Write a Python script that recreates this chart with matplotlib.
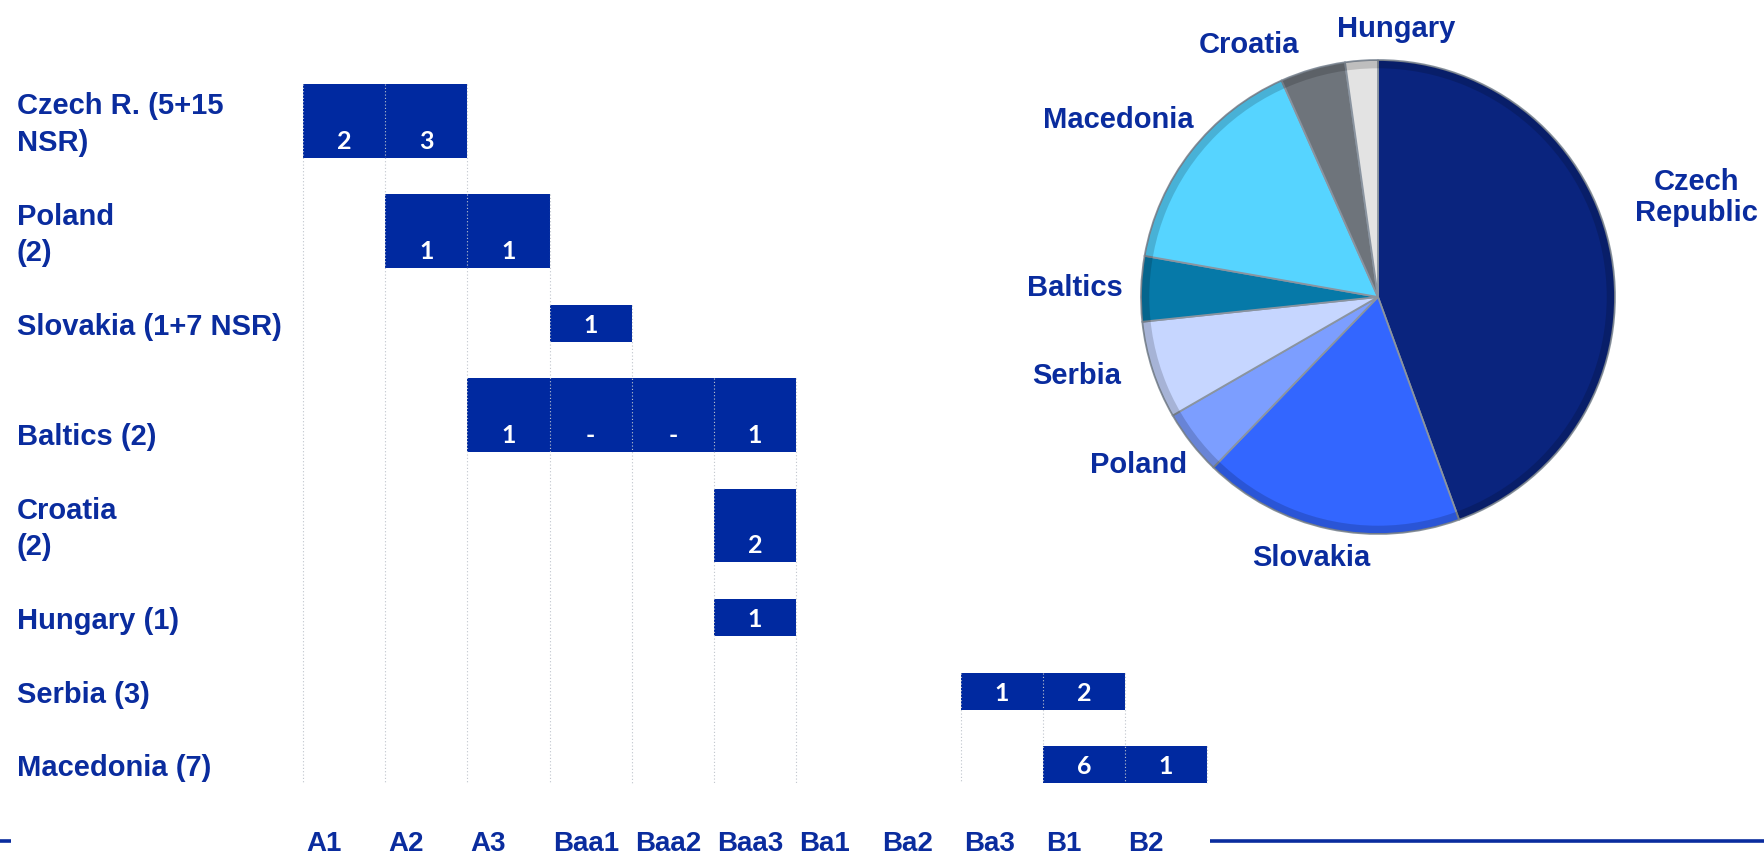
import matplotlib
matplotlib.use("Agg")
import matplotlib.pyplot as plt
from matplotlib import font_manager

# rating scale on the x axis
ratings = ["A1", "A2", "A3", "Baa1", "Baa2", "Baa3", "Ba1", "Ba2", "Ba3", "B1", "B2"]

# countries (rows) and number of rated issuers per rating bucket
countries = ["Czech R. (5+15\nNSR)", "Poland\n(2)", "Slovakia (1+7 NSR)", "\nBaltics (2)",
             "Croatia\n(2)", "Hungary (1)", "Serbia (3)", "Macedonia (7)"]
row_heights = [2, 2, 1, 2, 2, 1, 1, 1]
cells = [
    {"A1": "2", "A2": "3"},
    {"A2": "1", "A3": "1"},
    {"Baa1": "1"},
    {"A3": "1", "Baa1": "-", "Baa2": "-", "Baa3": "1"},
    {"Baa3": "2"},
    {"Baa3": "1"},
    {"Ba3": "1", "B1": "2"},
    {"B1": "6", "B2": "1"},
]

# pie: share of rated entities by country
pie_names = ["Czech\nRepublic", "Slovakia", "Poland", "Serbia", "Baltics", "Macedonia", "Croatia", "Hungary"]
pie_counts = [20, 8, 2, 3, 2, 7, 2, 1]
pie_colors = ["#0A247E", "#3366FF", "#7C9EFF", "#C6D6FF", "#0679A8", "#56D4FF", "#6E747B", "#E3E3E3"]
pie_label_xy = [(1.342, 0.42), (-0.28, -1.10), (-1.01, -0.71), (-1.27, -0.333),
                (-1.28, 0.04), (-1.095, 0.748), (-0.545, 1.062), (0.076, 1.13)]

navy = "#0A2C9E"
bar_blue = "#0029A0"

names = {f.name for f in font_manager.fontManager.ttflist}
num_font = "Lato" if "Lato" in names else "DejaVu Sans"

W, H = 1764, 855
fig = plt.figure(figsize=(W / 100, H / 100), dpi=100)
fig.patch.set_facecolor("white")

# grid axes: x in rating columns, y in row units (inverted)
col_px, x0_px = 82.2, 303
unit_px, y0_px = 36.8, 84
ax = fig.add_axes([0, 0, 1, 1])
ax.set_xlim(-x0_px / col_px, (W - x0_px) / col_px)
ax.set_ylim((H - y0_px) / unit_px, -y0_px / unit_px)
ax.axis("off")

tops = []
t = 0
for h in row_heights:
    tops.append(t)
    t += h + 1
grid_bottom = tops[-1] + row_heights[-1]

# bars and their value labels
edge_top = {}
for r, (row, top, h) in enumerate(zip(cells, tops, row_heights)):
    for rating, val in row.items():
        c = ratings.index(rating)
        ax.barh(top, 1, left=c, height=h, align="edge", color=bar_blue, zorder=2)
        ax.text(c + 0.5, top + h - 0.45, val, color="white", ha="center", va="center",
                fontsize=18, fontweight="bold", family=num_font, zorder=4)
        for b in (c, c + 1):
            edge_top[b] = min(edge_top.get(b, top), top)

# dotted column guides running down from the first bar edge
for b, top in edge_top.items():
    ax.plot([b, b], [top, grid_bottom], ls=(0, (1, 2)), color="#BFC4CC", lw=0.8, zorder=3)

# country labels
for name, top, h in zip(countries, tops, row_heights):
    ax.text(-3.48, top + h / 2 + 0.1, name, color=navy, ha="left", va="center",
            fontsize=21, fontweight="bold", family="Liberation Sans", linespacing=1.38)

# rating labels along the bottom
for i, r in enumerate(ratings):
    ax.text(i + 0.04, 20.85, r, color=navy, ha="left", va="baseline",
            fontsize=20, fontweight="bold", family="Liberation Sans")

# baseline rule
line_y = (841 - y0_px) / unit_px
ax.plot([len(ratings) + 0.03, ax.get_xlim()[1]], [line_y, line_y], color="#0A2C9E", lw=2.6,
        solid_capstyle="butt")
ax.plot([ax.get_xlim()[0], -3.55], [line_y, line_y], color="#0A2C9E", lw=2.6,
        solid_capstyle="butt")

# pie chart
cx, cy, R = 1378, 297, 237
pax = fig.add_axes([(cx - R) / W, (H - cy - R) / H, 2 * R / W, 2 * R / H])
wedges, _ = pax.pie(pie_counts, colors=pie_colors, startangle=90, counterclock=False,
                    radius=1.0, wedgeprops=dict(edgecolor="#8A94A0", linewidth=1.3))
# soft rim shading
pax.pie([1], colors=["none"], radius=1.0,
        wedgeprops=dict(width=0.035, edgecolor="none", facecolor=(0, 0, 0, 0.16)))
pax.set_xlim(-1, 1)
pax.set_ylim(-1, 1)
pax.set_aspect("equal")
pax.axis("off")

for name, (lx, ly) in zip(pie_names, pie_label_xy):
    pax.text(lx, ly, name, color=navy, ha="center", va="center", fontsize=21,
             fontweight="bold", family="Liberation Sans", linespacing=1.1, clip_on=False)

fig.savefig("out.png", dpi=100, facecolor="white")
